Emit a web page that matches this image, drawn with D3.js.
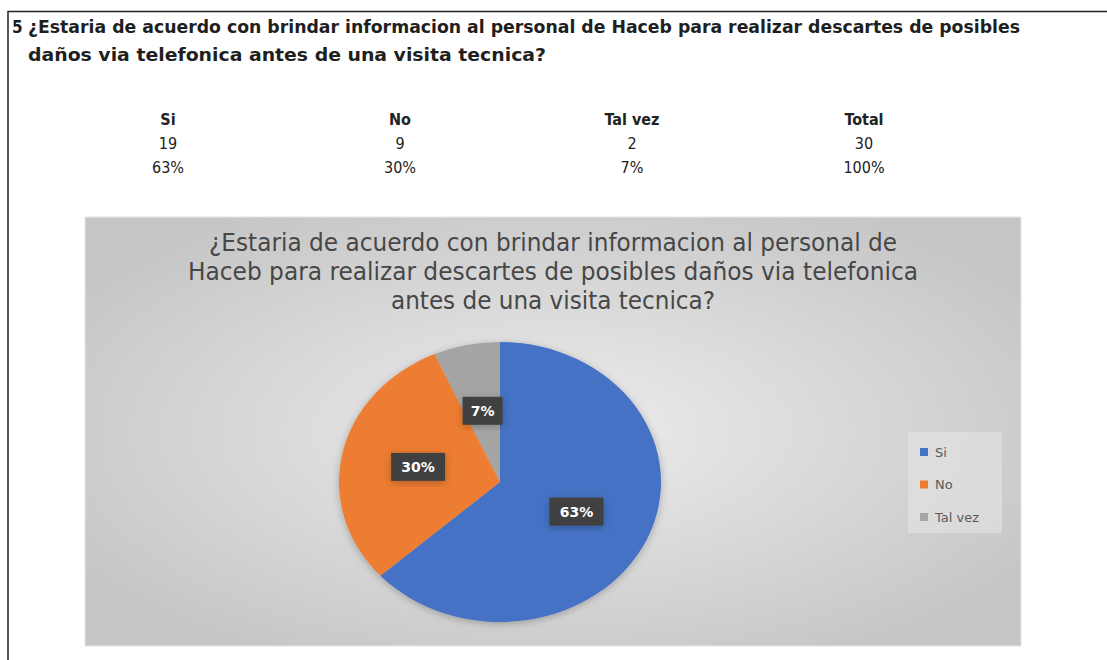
<!DOCTYPE html>
<html>
<head>
<meta charset="utf-8">
<script src="https://cdn.jsdelivr.net/npm/d3@7"></script>
<style>
  body { margin: 0; background: #fff; }
  svg { display: block; }
</style>
</head>
<body>
<svg id="chart" width="1107" height="660"></svg>
<script>
"use strict";

// survey data
const categories = ["Si", "No", "Tal vez"];
const counts = [19, 9, 2];
const percentLabels = ["63%", "30%", "7%"];
const totalLabel = "Total";
const totalCount = 30;
const totalPercent = "100%";
const colors = ["#4472c4", "#ed7d31", "#a5a5a5"];

const headerLines = ["¿Estaria de acuerdo con brindar informacion al personal de Haceb para realizar descartes de posibles", "daños via telefonica antes de una visita tecnica?"];
const titleLines = ["¿Estaria de acuerdo con brindar informacion al personal de", "Haceb para realizar descartes de posibles daños via telefonica", "antes de una visita tecnica?"];

const font = "'Liberation Sans Narrow', 'DejaVu Sans Condensed', 'Open Sans', sans-serif";

var svg = d3.select("#chart");
var defs = svg.append("defs");

// page frame (top + left rule)
svg.append("path")
  .attr("d", "M8,660 V11.5 H1107")
  .attr("fill", "none")
  .attr("stroke", "#222")
  .attr("stroke-width", 1.5);

// question header
svg.append("text")
  .attr("x", 12).attr("y", 33)
  .attr("font-family", font).attr("font-weight", "bold")
  .attr("font-size", 17).attr("fill", "#1f1f1f")
  .text("5");
headerLines.forEach(function (t, i) {
  svg.append("text")
    .attr("x", 28).attr("y", 33 + i * 28)
    .attr("font-family", font).attr("font-weight", "bold")
    .attr("font-size", 17).attr("fill", "#1f1f1f")
    .attr("textLength", i === 0 ? 992 : 518)
    .attr("lengthAdjust", "spacingAndGlyphs")
    .text(t);
});

// summary table
var cols = categories.concat([totalLabel]);
var colValues = counts.concat([totalCount]);
var colPercents = percentLabels.concat([totalPercent]);
var xTable = d3.scalePoint().domain(cols).range([168, 864]);

var table = svg.append("g").attr("font-family", font).attr("font-size", 16)
  .attr("fill", "#222").attr("text-anchor", "middle");
table.selectAll(".head").data(cols).enter().append("text")
  .attr("x", function (d) { return xTable(d); })
  .attr("y", 125).attr("font-weight", "bold").text(function (d) { return d; });
table.selectAll(".val").data(cols).enter().append("text")
  .attr("x", function (d) { return xTable(d); })
  .attr("y", 149).text(function (d, i) { return colValues[i]; });
table.selectAll(".pct").data(cols).enter().append("text")
  .attr("x", function (d) { return xTable(d); })
  .attr("y", 173).text(function (d, i) { return colPercents[i]; });

// chart area background
var bg = defs.append("radialGradient").attr("id", "bg")
  .attr("cx", "50%").attr("cy", "50%").attr("r", "60%");
bg.append("stop").attr("offset", "0%").attr("stop-color", "#ededed");
bg.append("stop").attr("offset", "100%").attr("stop-color", "#c6c6c6");

var shadow = defs.append("filter").attr("id", "shadow")
  .attr("x", "-20%").attr("y", "-20%").attr("width", "140%").attr("height", "140%");
shadow.append("feDropShadow").attr("dx", 0).attr("dy", 2)
  .attr("stdDeviation", 4).attr("flood-color", "#000").attr("flood-opacity", 0.25);

var chartBox = { x: 85, y: 217, w: 936, h: 429 };
svg.append("rect")
  .attr("x", chartBox.x).attr("y", chartBox.y)
  .attr("width", chartBox.w).attr("height", chartBox.h)
  .attr("fill", "url(#bg)")
  .attr("stroke", "#e6e6e6");

// chart title
titleLines.forEach(function (t, i) {
  svg.append("text")
    .attr("x", 553).attr("y", 251 + i * 29)
    .attr("text-anchor", "middle")
    .attr("font-family", font).attr("font-size", 24)
    .attr("fill", "#474747")
    .attr("textLength", [688, 730, 324][i])
    .attr("lengthAdjust", "spacingAndGlyphs")
    .text(t);
});

// pie (drawn as circle, squashed vertically like the original)
var rx = 161, ry = 140;
var cx = 500, cy = 482;
var pie = d3.pie().sort(null).value(function (d) { return d; });
var arcs = pie(counts);
var arc = d3.arc().innerRadius(0).outerRadius(rx);
var labelArc = d3.arc().innerRadius(rx * 0.52).outerRadius(rx * 0.52);

var pieG = svg.append("g")
  .attr("transform", "translate(" + cx + "," + cy + ")");
pieG.append("g")
  .attr("transform", "scale(1," + (ry / rx) + ")")
  .attr("filter", "url(#shadow)")
  .selectAll("path").data(arcs).enter().append("path")
  .attr("d", arc)
  .attr("fill", function (d, i) { return colors[i]; });

// data labels
var labels = pieG.selectAll(".lbl").data(arcs).enter().append("g")
  .attr("transform", function (d) {
    var c = labelArc.centroid(d);
    return "translate(" + c[0] + "," + c[1] * (ry / rx) + ")";
  });
labels.append("rect")
  .attr("x", function (d, i) { return percentLabels[i].length > 2 ? -27 : -20; })
  .attr("y", -14)
  .attr("width", function (d, i) { return percentLabels[i].length > 2 ? 54 : 40; })
  .attr("height", 28)
  .attr("fill", "#404040")
  .attr("filter", "url(#shadow)");
labels.append("text")
  .attr("text-anchor", "middle").attr("dy", "0.35em")
  .attr("font-family", "'DejaVu Sans', sans-serif").attr("font-weight", "bold")
  .attr("font-size", 14).attr("fill", "#fff")
  .text(function (d, i) { return percentLabels[i]; });

// legend
var legend = svg.append("g").attr("transform", "translate(908,432)");
legend.append("rect").attr("width", 94).attr("height", 101)
  .attr("fill", "#e4e4e4").attr("opacity", 0.6);
var yLeg = d3.scalePoint().domain(categories).range([20, 85]);
var items = legend.selectAll(".item").data(categories).enter().append("g")
  .attr("transform", function (d) { return "translate(12," + yLeg(d) + ")"; });
items.append("rect").attr("x", 0).attr("y", -4).attr("width", 8).attr("height", 8)
  .attr("fill", function (d, i) { return colors[i]; });
items.append("text").attr("x", 15).attr("dy", "0.35em")
  .attr("font-family", "'DejaVu Sans', sans-serif").attr("font-size", 13)
  .attr("fill", "#595959")
  .text(function (d) { return d; });
</script>
</body>
</html>
